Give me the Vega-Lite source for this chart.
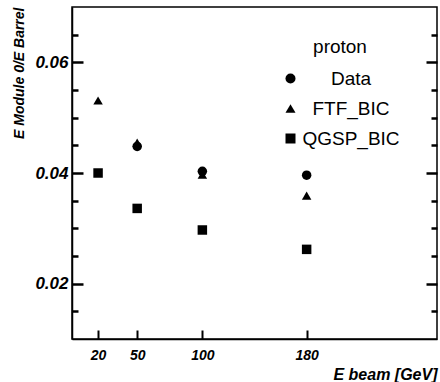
{
  "$schema": "https://vega.github.io/schema/vega-lite/v6.json",
  "width": 365,
  "height": 332,
  "autosize": {"type": "none"},
  "padding": {"left": 72, "top": 7, "right": 3, "bottom": 43},
  "background": "white",
  "config": {
    "font": "Liberation Sans",
    "view": {"stroke": "black", "strokeWidth": 1.5},
    "axis": {"grid": false, "domainColor": "black", "domainWidth": 1.5, "tickColor": "black", "tickWidth": 2, "labelColor": "black", "titleColor": "black", "labelOpacity": 1}
  },
  "data": {
    "values": [
      {"E": 50, "ratio": 0.0448, "model": "Data"},
      {"E": 100, "ratio": 0.0403, "model": "Data"},
      {"E": 180, "ratio": 0.0396, "model": "Data"},
      {"E": 20, "ratio": 0.0531, "model": "FTF_BIC"},
      {"E": 50, "ratio": 0.0455, "model": "FTF_BIC"},
      {"E": 100, "ratio": 0.0397, "model": "FTF_BIC"},
      {"E": 180, "ratio": 0.0359, "model": "FTF_BIC"},
      {"E": 20, "ratio": 0.0400, "model": "QGSP_BIC"},
      {"E": 50, "ratio": 0.0336, "model": "QGSP_BIC"},
      {"E": 100, "ratio": 0.0297, "model": "QGSP_BIC"},
      {"E": 180, "ratio": 0.0262, "model": "QGSP_BIC"}
    ]
  },
  "layer": [
    {
      "mark": {"type": "point", "filled": true, "opacity": 1, "size": 90, "color": "black"},
      "encoding": {
        "x": {
          "field": "E", "type": "quantitative",
          "scale": {"domain": [0, 280], "nice": false, "zero": false},
          "axis": {
            "orient": "bottom", "values": [20, 50, 100, 180], "ticks": false, "labelPadding": 9,
            "labelFontSize": 14, "labelFontWeight": "bold", "labelFontStyle": "italic",
            "title": "E beam [GeV]", "titleFontSize": 16, "titleFontWeight": "bold", "titleFontStyle": "italic",
            "titleAnchor": "end", "titleAlign": "right", "titlePadding": 4
          }
        },
        "y": {
          "field": "ratio", "type": "quantitative",
          "scale": {"domain": [0.01, 0.07], "nice": false, "zero": false},
          "axis": {
            "orient": "left", "values": [0.02, 0.04, 0.06], "format": ".2f", "ticks": false,
            "labelPadding": 4, "labelFontSize": 17, "labelFontWeight": "bold", "labelFontStyle": "italic",
            "title": "E Module 0/E Barrel", "titleFontSize": 14, "titleFontWeight": "bold", "titleFontStyle": "italic",
            "titleAnchor": "end", "titleAlign": "right", "titlePadding": 8
          }
        },
        "shape": {
          "field": "model", "type": "nominal",
          "scale": {"domain": ["Data", "FTF_BIC", "QGSP_BIC"], "range": ["circle", "triangle-up", "square"]},
          "legend": {
            "orient": "none", "legendX": 209, "legendY": 31, "padding": 0,
            "title": "proton", "titleFontSize": 19, "titleFontWeight": "normal", "titleAnchor": "middle", "titlePadding": 12, "titleColor": "black",
            "labelFontSize": 19, "labelAlign": "center", "labelOffset": 51, "labelColor": "black",
            "symbolSize": 100, "symbolFillColor": "black", "symbolStrokeColor": "black", "rowPadding": 10
          }
        }
      }
    },
    {
      "mark": {"type": "point", "opacity": 0},
      "encoding": {
        "x": {
          "field": "E", "type": "quantitative",
          "axis": {"orient": "top", "offset": -332, "domain": false, "values": [20, 50, 100, 180], "tickSize": 9, "tickColor": "black", "tickWidth": 2, "labels": false, "title": null}
        }
      }
    },
    {
      "mark": {"type": "point", "opacity": 0},
      "encoding": {
        "y": {
          "field": "ratio", "type": "quantitative",
          "axis": {"orient": "right", "offset": -365, "domain": false, "values": [0.02, 0.04, 0.06], "tickSize": 11, "tickColor": "black", "tickWidth": 2.5, "labels": false, "title": null}
        }
      }
    },
    {
      "mark": {"type": "point", "opacity": 0},
      "encoding": {
        "y": {
          "field": "ratio", "type": "quantitative",
          "axis": {"orient": "right", "offset": -365, "domain": false, "values": [0.015, 0.025, 0.03, 0.035, 0.045, 0.05, 0.055, 0.065], "tickSize": 6, "tickColor": "black", "tickWidth": 2.5, "labels": false, "title": null}
        }
      }
    },
    {
      "mark": {"type": "point", "opacity": 0},
      "encoding": {
        "y": {
          "field": "ratio", "type": "quantitative",
          "axis": {"orient": "left", "offset": -365, "domain": false, "values": [0.02, 0.04, 0.06], "tickSize": 11, "tickColor": "black", "tickWidth": 2.5, "labels": false, "title": null}
        }
      }
    },
    {
      "mark": {"type": "point", "opacity": 0},
      "encoding": {
        "y": {
          "field": "ratio", "type": "quantitative",
          "axis": {"orient": "left", "offset": -365, "domain": false, "values": [0.015, 0.025, 0.03, 0.035, 0.045, 0.05, 0.055, 0.065], "tickSize": 6, "tickColor": "black", "tickWidth": 2.5, "labels": false, "title": null}
        }
      }
    }
  ],
  "resolve": {"axis": {"x": "independent", "y": "independent"}}
}
